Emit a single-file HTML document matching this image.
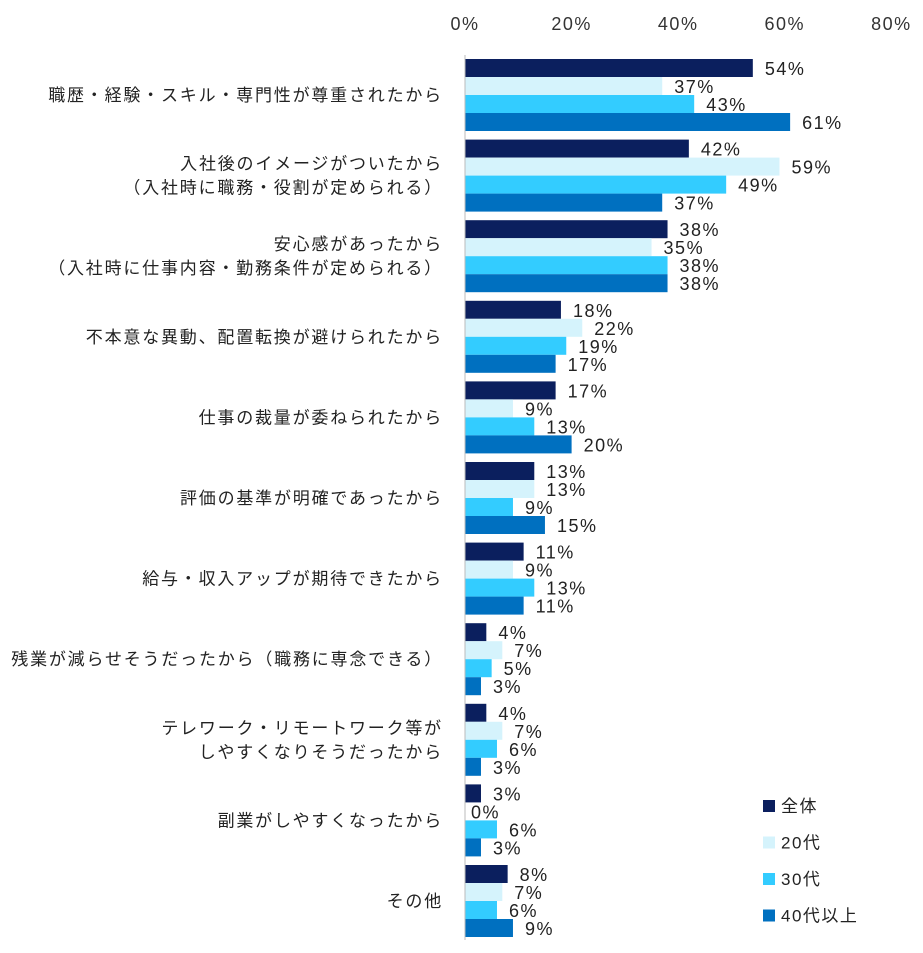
<!DOCTYPE html>
<html><head><meta charset="utf-8">
<style>
body{margin:0;background:#fff;font-family:"Liberation Sans","Noto Sans CJK JP",sans-serif;}
svg text{font-family:"Liberation Sans","Noto Sans CJK JP",sans-serif;}
</style></head>
<body>
<svg id="chart" width="923" height="948" xmlns="http://www.w3.org/2000/svg"></svg>
<script>
const categories=[["職歴・経験・スキル・専門性が尊重されたから"],["入社後のイメージがついたから","（入社時に職務・役割が定められる）"],["安心感があったから","（入社時に仕事内容・勤務条件が定められる）"],["不本意な異動、配置転換が避けられたから"],["仕事の裁量が委ねられたから"],["評価の基準が明確であったから"],["給与・収入アップが期待できたから"],["残業が減らせそうだったから（職務に専念できる）"],["テレワーク・リモートワーク等が","しやすくなりそうだったから"],["副業がしやすくなったから"],["その他"]];
const seriesNames=["全体","20代","30代","40代以上"];
const sAll=[54,42,38,18,17,13,11,4,4,3,8];
const s20=[37,59,35,22,9,13,9,7,7,0,7];
const s30=[43,49,38,19,13,9,13,5,6,6,6];
const s40=[61,37,38,17,20,15,11,3,3,3,9];
const ticks=[0,20,40,60,80];
const colors=["#0b1f5e","#d5f3fc","#33ccff","#0070c0"];
const series=[sAll,s20,s30,s40];
const svg=document.getElementById('chart');
const NS="http://www.w3.org/2000/svg";
const x0=465,scale=5.33,gTop=59,gStep=80.6,bh=18;
const xs=v=>x0+v*scale;
function mk(t,a){const e=document.createElementNS(NS,t);for(const k in a)e.setAttribute(k,a[k]);svg.appendChild(e);return e;}
ticks.forEach(t=>{const e=mk('text',{x:xs(t),y:30,'text-anchor':'middle','font-size':18,'letter-spacing':1.5,fill:'#333'});e.textContent=t+'%';

});
categories.forEach((c,i)=>{
 const top=gTop+i*gStep, mid=top+2*bh;
 c.forEach((ln,j)=>{const e=mk('text',{x:443,y:mid+6+(j-(c.length-1)/2)*24,'text-anchor':'end','font-size':17,'letter-spacing':1.8,fill:'#222'});e.textContent=ln;
 
 });
 series.forEach((s,k)=>{
  const y=top+k*bh;
  const r=mk('rect',{x:x0,y:y,width:Math.max(0,s[i]*scale),height:bh,fill:colors[k]});
  
  
  const t=mk('text',{x:xs(s[i])+(s[i]===0?6:12),y:y+16,'font-size':18,'letter-spacing':1.5,fill:'#222'});t.textContent=s[i]+'%';
  
  
 });
});
const ax=mk('line',{x1:x0,y1:55,x2:x0,y2:940,stroke:'#bbb','stroke-width':1});


seriesNames.forEach((n,k)=>{const y=806+k*36.5;
 const r=mk('rect',{x:763,y:y-6,width:12,height:12,fill:colors[k]});
 
 
 const t=mk('text',{x:781,y:y+6,'font-size':17,'letter-spacing':1.5,fill:'#222'});t.textContent=n;
 
 });
</script>
</body></html>
